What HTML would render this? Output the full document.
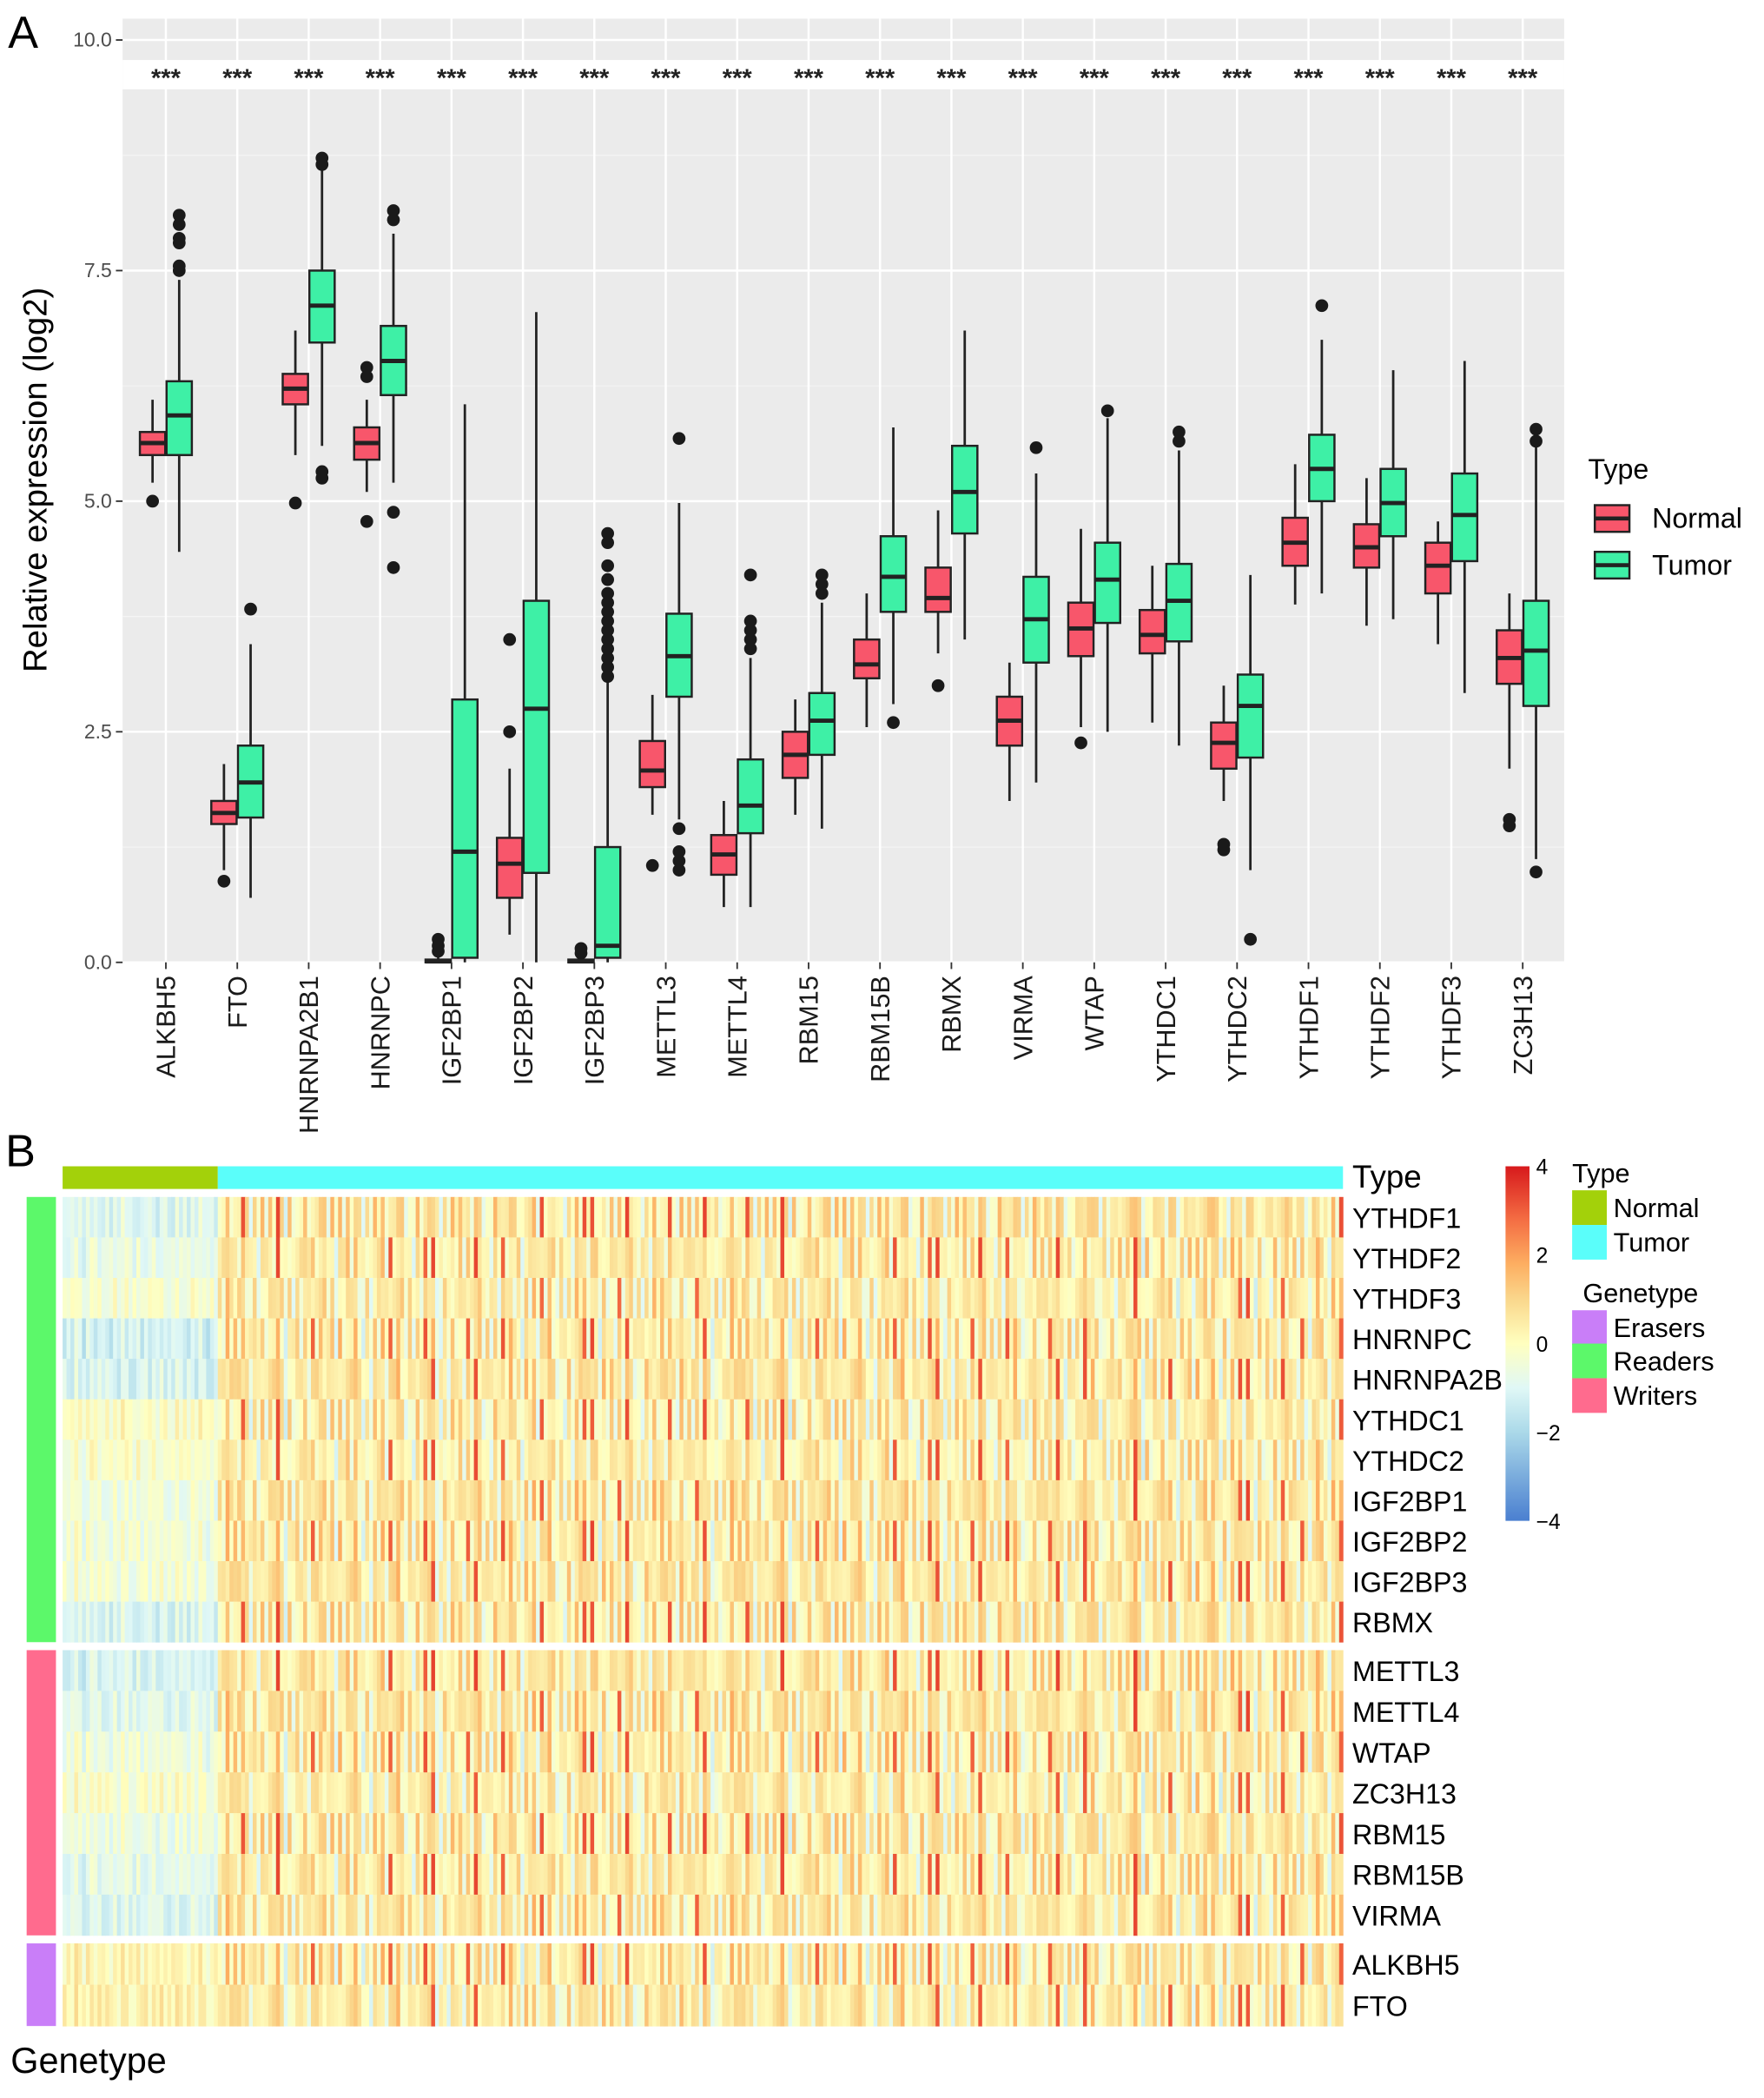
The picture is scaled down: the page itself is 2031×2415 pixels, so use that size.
<!DOCTYPE html>
<html><head><meta charset="utf-8"><style>
html,body{margin:0;padding:0;background:#fff}
svg{display:block;font-family:"Liberation Sans",Arial,sans-serif}
</style></head><body>
<svg id="fig" width="2031" height="2415" viewBox="0 0 1324 1574" preserveAspectRatio="none">
<rect x="0" y="0" width="1324" height="1574" fill="#fff"/>
<text x="6" y="36" font-size="34">A</text>
<text x="4" y="875" font-size="34">B</text>
<g id="boxplot"></g>
<g id="heatmap"></g>
</svg>
<script>
// ---------- Panel A data ----------
const genes = ["ALKBH5","FTO","HNRNPA2B1","HNRNPC","IGF2BP1","IGF2BP2","IGF2BP3","METTL3","METTL4","RBM15","RBM15B","RBMX","VIRMA","WTAP","YTHDC1","YTHDC2","YTHDF1","YTHDF2","YTHDF3","ZC3H13"];
// [whiskerLow, q1, median, q3, whiskerHigh]
const normalStats = [
 [5.2,5.5,5.63,5.75,6.1],[1.0,1.5,1.62,1.75,2.15],[5.5,6.05,6.22,6.38,6.85],[5.1,5.45,5.63,5.8,6.1],
 [0,0,0.01,0.03,0.08],[0.3,0.7,1.07,1.35,2.1],[0,0,0.01,0.03,0.06],[1.6,1.9,2.08,2.4,2.9],
 [0.6,0.95,1.17,1.38,1.75],[1.6,2.0,2.25,2.5,2.85],[2.55,3.08,3.23,3.5,4.0],[3.35,3.8,3.95,4.28,4.9],
 [1.75,2.35,2.62,2.88,3.25],[2.55,3.32,3.62,3.9,4.7],[2.6,3.35,3.55,3.82,4.3],[1.75,2.1,2.38,2.6,3.0],
 [3.88,4.3,4.55,4.82,5.4],[3.65,4.28,4.5,4.75,5.25],[3.45,4.0,4.3,4.55,4.78],[2.1,3.02,3.3,3.6,4.0]];
const tumorStats = [
 [4.45,5.5,5.93,6.3,7.4],[0.7,1.57,1.95,2.35,3.45],[5.6,6.72,7.12,7.5,8.6],[5.2,6.15,6.52,6.9,7.9],
 [0,0.05,1.2,2.85,6.05],[0,0.97,2.75,3.92,7.05],[0,0.05,0.18,1.25,3.05],[1.55,2.88,3.32,3.78,4.98],
 [0.6,1.4,1.7,2.2,3.3],[1.45,2.25,2.62,2.92,3.9],[2.8,3.8,4.18,4.62,5.8],[3.5,4.65,5.1,5.6,6.85],
 [1.95,3.25,3.72,4.18,5.3],[2.5,3.68,4.15,4.55,5.9],[2.35,3.48,3.92,4.32,5.55],[1.0,2.22,2.78,3.12,4.2],
 [4.0,5.0,5.35,5.72,6.75],[3.72,4.62,4.98,5.35,6.42],[2.92,4.35,4.85,5.3,6.52],[1.12,2.78,3.38,3.92,5.6]];
const normalOutliers = [[5.0],[0.88],[4.98],[6.35,6.45,4.78],[0.12,0.18,0.25],[2.5,3.5],[0.1,0.15],[1.05],[],[],[],[3.0],[],[2.38],[],[1.22,1.28],[],[],[],[1.48,1.55]];
const tumorOutliers = [[7.5,7.55,7.8,7.85,8.0,8.1],[3.83],[8.65,8.72,5.25,5.32],[8.05,8.15,4.88,4.28],[],[],
 [3.1,3.2,3.3,3.4,3.5,3.6,3.7,3.8,3.9,4.0,4.15,4.3,4.55,4.65],[5.68,1.0,1.1,1.2,1.45],[3.4,3.5,3.6,3.7,4.2],[4.0,4.1,4.2],[2.6],[],[5.58],[5.98],[5.65,5.75],[0.25],[7.12],[],[],[5.65,5.78,0.98]];
const yTicks = [0,2.5,5,7.5,10];
const yTickLabels = ["0.0","2.5","5.0","7.5","10.0"];
const sigLabels = genes.map(()=>"***");

// ---------- Panel B data ----------
const rowGenes = ["YTHDF1","YTHDF2","YTHDF3","HNRNPC","HNRNPA2B","YTHDC1","YTHDC2","IGF2BP1","IGF2BP2","IGF2BP3","RBMX","METTL3","METTL4","WTAP","ZC3H13","RBM15","RBM15B","VIRMA","ALKBH5","FTO"];
const rowGroups = ["Readers","Readers","Readers","Readers","Readers","Readers","Readers","Readers","Readers","Readers","Readers","Writers","Writers","Writers","Writers","Writers","Writers","Writers","Erasers","Erasers"];
const normalLevel = [-1.0,-0.7,-0.3,-1.2,-1.1,-0.1,-0.2,-0.5,-0.4,-0.4,-1.1,-1.1,-0.9,-0.5,-0.2,-0.6,-0.8,-1.0,0.2,0.3];
const tumorLevel = [0.5,0.45,0.35,0.45,0.5,0.35,0.35,0.5,0.5,0.5,0.45,0.5,0.5,0.45,0.35,0.45,0.45,0.45,0.45,0.4];
const nNormal = 40, nTumor = 290;
const colPattern = "3718205964172839405617283945061728394051627384950617283940516273849506172839405162738495061748392051637284950617283945061728394051627384950617283940516273849506172839405162738495061728394051627384950617283940516273849506172839405162738495061728394051627384950617283940516273849506172839405162738495061728394051627384";
const cellPattern = "52817364905172839461027384659102837465019283746501928374650192837";

const NS="http://www.w3.org/2000/svg";
function el(tag, attrs, parent){const e=document.createElementNS(NS,tag);for(const k in attrs)e.setAttribute(k,attrs[k]);parent.appendChild(e);return e;}

// ---------- Draw Panel A ----------
const A = document.getElementById('boxplot');
const px0=92, px1=1174, yTop=14, yBot=722;
const yS = v => 722 - v*69.2;
const xC = i => 124.5 + i*53.6;
let r = el('rect',{x:px0,y:yTop,width:px1-px0,height:yBot-yTop,fill:'#ebebeb'},A);


for(let k=0;k<yTicks.length-1;k++){const v=(yTicks[k]+yTicks[k+1])/2;el('line',{x1:px0,x2:px1,y1:yS(v),y2:yS(v),stroke:'#f5f5f5','stroke-width':0.8},A);}
yTicks.forEach((v,k)=>{
  const g=el('line',{x1:px0,x2:px1,y1:yS(v),y2:yS(v),stroke:'#fff','stroke-width':1.6},A);
  
  
  el('line',{x1:px0-5,x2:px0,y1:yS(v),y2:yS(v),stroke:'#333','stroke-width':1.2},A);
  const t=el('text',{x:px0-8,y:yS(v)+5,'font-size':15,fill:'#4d4d4d','text-anchor':'end'},A);
  t.textContent=yTickLabels[k];
  
  
});
genes.forEach((g,i)=>{
  const l=el('line',{x1:xC(i),x2:xC(i),y1:yTop,y2:yBot,stroke:'#fff','stroke-width':1.6},A);
  
  
});
const band=el('rect',{x:px0,y:45,width:px1-px0,height:22,fill:'#fff'},A);


sigLabels.forEach((s,i)=>{
  const t=el('text',{x:xC(i),y:65,'font-size':19,'font-weight':'bold','text-anchor':'middle',fill:'#222'},A);
  t.textContent=s;
  
  
});
function drawBox(st,outs,cx,fill,name){
  const g=el('g',{},A);
  
  
  const w=19;
  el('line',{x1:cx,x2:cx,y1:yS(st[0]),y2:yS(st[4]),stroke:'#222','stroke-width':1.8},g);
  el('rect',{x:cx-w/2,y:yS(st[3]),width:w,height:Math.max(yS(st[1])-yS(st[3]),1),fill:fill,stroke:'#222','stroke-width':1.6},g);
  el('line',{x1:cx-w/2,x2:cx+w/2,y1:yS(st[2]),y2:yS(st[2]),stroke:'#222','stroke-width':3.2},g);
  outs.forEach(o=>{el('circle',{cx:cx,cy:yS(o),r:4.8,fill:'#1a1a1a'},g);});
}
genes.forEach((gname,i)=>{
  drawBox(normalStats[i],normalOutliers[i],xC(i)-10,'#f8566b','box-normal-'+gname.toLowerCase());
  drawBox(tumorStats[i],tumorOutliers[i],xC(i)+10,'#3ef0a6','box-tumor-'+gname.toLowerCase());
  el('line',{x1:xC(i),x2:xC(i),y1:yBot,y2:yBot+5,stroke:'#333','stroke-width':1.2},A);
  const t=el('text',{transform:`translate(${xC(i)+7},${yBot+10}) rotate(-90)`,'font-size':20,'text-anchor':'end',fill:'#1a1a1a'},A);
  t.textContent=gname;
  
  
});
let yt=el('text',{transform:'translate(35,360) rotate(-90)','font-size':25,'text-anchor':'middle',fill:'#000'},A);
yt.textContent='Relative expression (log2)';


let lt=el('text',{x:1192,y:359,'font-size':21,fill:'#000'},A);
lt.textContent='Type';


[['Normal','#f8566b',389],['Tumor','#3ef0a6',424]].forEach(([n,c,y])=>{
  const g=el('g',{},A);
  
  
  el('rect',{x:1197,y:y-10,width:26,height:20,fill:c,stroke:'#222','stroke-width':1.6},g);
  el('line',{x1:1197,x2:1223,y1:y,y2:y,stroke:'#222','stroke-width':3},g);
  const t=el('text',{x:1240,y:y+7,'font-size':21,fill:'#000'},g);t.textContent=n;
});

// ---------- Draw Panel B ----------
const B=document.getElementById('heatmap');
const hx0=47, hx1=1008;
const nCols=nNormal+nTumor, cw=(hx1-hx0)/nCols;
const stops=[[-4,[74,127,208]],[-2,[171,217,233]],[-1,[224,248,246]],[0,[255,255,191]],[1,[250,215,140]],[1.8,[253,174,97]],[2.8,[244,109,67]],[4,[215,25,28]]];
function col(v){v=Math.max(-4,Math.min(4,v));for(let k=0;k<stops.length-1;k++){const [a,ca]=stops[k],[b,cb]=stops[k+1];if(v<=b){const t=(v-a)/(b-a);return 'rgb('+ca.map((c,j)=>Math.round(c+(cb[j]-c)*t)).join(',')+')';}}return 'rgb(215,25,28)';}
let tb=el('rect',{x:hx0,y:875,width:nNormal*cw,height:17,fill:'#a3d10a'},B);


tb=el('rect',{x:hx0+nNormal*cw,y:875,width:nTumor*cw,height:17,fill:'#5afefa'},B);


let tt=el('text',{x:1015,y:891,'font-size':24,fill:'#000'},B);tt.textContent='Type';


function rowY(ri){ if(ri<11) return 898+ri*30.36; if(ri<18) return 1238+(ri-11)*30.57; return 1458+(ri-18)*31; }
function rowH(ri){ return ri<11?30.36:(ri<18?30.57:31); }
const cells=el('g',{},B);


rowGenes.forEach((gname,ri)=>{
  const y=rowY(ri), h=rowH(ri);
  for(let c=0;c<nCols;c++){
    const isN=c<nNormal;
    const dc=+colPattern[c%colPattern.length];
    const dn=+cellPattern[(c*7+ri*13)%cellPattern.length];
    const pc=(dc-4.5)/4.5, pn=(dn-4.5)/4.5;
    let v;
    if(isN) v=normalLevel[ri]+0.5*pn+0.2*pc;
    else { v=tumorLevel[ri]+0.8*pc+0.9*pn; if(dc>=8&&dn>=8) v+=1.2; }
    const rc=el('rect',{x:hx0+c*cw,y:y,width:cw+0.3,height:h+0.3,fill:col(v)},cells);
    
    
  }
  const t=el('text',{x:1015,y:y+h/2+8,'font-size':21,fill:'#000'},B);t.textContent=gname;
  
  
});
[['Readers','#5cf86a',898,1232],['Writers','#ff6b8e',1238,1452],['Erasers','#c97ef8',1458,1520]].forEach(([n,c,a,b])=>{
  const rr=el('rect',{x:20,y:a,width:22,height:b-a,fill:c},B);
  
  
});
let gl=el('text',{x:8,y:1555,'font-size':27,fill:'#000'},B);gl.textContent='Genetype';


const defs=el('defs',{},B);
const lg=el('linearGradient',{id:'cbg',x1:0,y1:1,x2:0,y2:0},defs);
stops.forEach(([v,c])=>el('stop',{offset:((v+4)/8),'stop-color':'rgb('+c.join(',')+')'},lg));
let cb=el('rect',{x:1130,y:875,width:18,height:266,fill:'url(#cbg)'},B);


[4,2,0,-2,-4].forEach(v=>{
  const t=el('text',{x:1153,y:875+(4-v)/8*266+6,'font-size':16,fill:'#000'},B);t.textContent=v<0?'\u2212'+(-v):String(v);
  
  
});
let l1=el('text',{x:1180,y:887,'font-size':20,fill:'#000'},B);l1.textContent='Type';


[['Normal','#a3d10a',893],['Tumor','#5afefa',919]].forEach(([n,c,y])=>{
  const g=el('g',{},B);
  
  
  el('rect',{x:1180,y:y,width:26,height:26,fill:c},g);
  const t=el('text',{x:1211,y:y+20,'font-size':20,fill:'#000'},g);t.textContent=n;
});
let l2=el('text',{x:1188,y:977,'font-size':20,fill:'#000'},B);l2.textContent='Genetype';


[['Erasers','#c97ef8',983],['Readers','#5cf86a',1008],['Writers','#ff6b8e',1034]].forEach(([n,c,y])=>{
  const g=el('g',{},B);
  
  
  el('rect',{x:1180,y:y,width:26,height:26,fill:c},g);
  const t=el('text',{x:1211,y:y+20,'font-size':20,fill:'#000'},g);t.textContent=n;
});
</script>
</body></html>
